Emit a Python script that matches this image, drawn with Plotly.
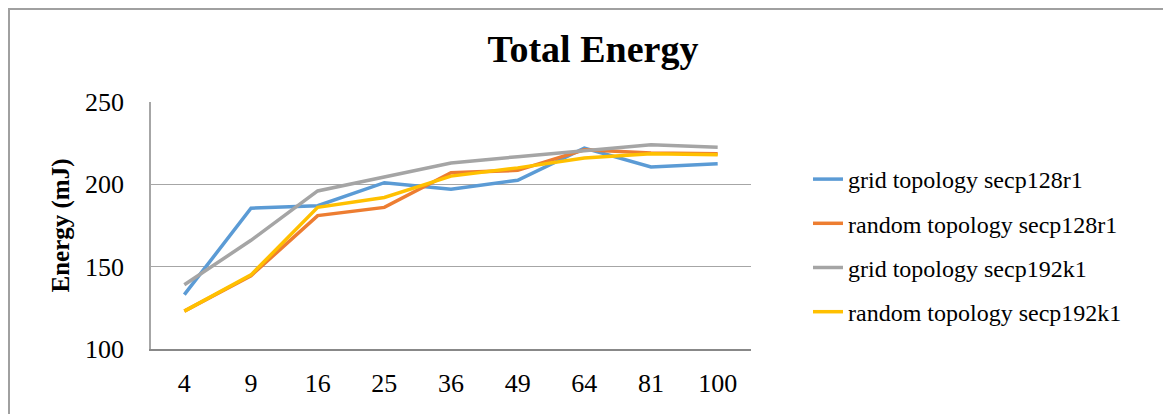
import plotly.graph_objects as go

categories = ["4", "9", "16", "25", "36", "49", "64", "81", "100"]
grid_128 = [133, 185.5, 187, 201, 197, 202.5, 222, 210.5, 212.5]
random_128 = [123, 144.5, 181, 186, 207, 208.5, 221, 219, 218.5]
grid_192 = [139, 166, 196, 204.5, 213, 216.8, 220.5, 224, 222.5]
random_192 = [123, 145, 186, 192, 205, 210, 216, 218.5, 218]

series_names = ["grid topology secp128r1", "random topology secp128r1",
                "grid topology secp192k1", "random topology secp192k1"]
series_values = [grid_128, random_128, grid_192, random_192]
colors = ["#5B9BD5", "#ED7D31", "#A5A5A5", "#FFC000"]

OFF = 8  # page body margin
W, H = 1171 - OFF, 414 - OFF
L, R, T, B = 151 - OFF, 751 - OFF, 102 - OFF, 349 - OFF

fig = go.Figure()
for name, vals, c in zip(series_names, series_values, colors):
    fig.add_trace(go.Scatter(x=categories, y=vals, name=name, mode="lines",
                             line=dict(color=c, width=3.5), legendgroup=name))

def px2x(px):
    return (px - OFF - L) / (R - L)

def px2y(py):
    return (B - (py - OFF)) / (B - T)

fig.update_layout(
    width=W, height=H,
    margin=dict(l=L, r=W - R, t=T, b=H - B),
    paper_bgcolor="white", plot_bgcolor="white",
    font=dict(family="Liberation Serif", color="black"),
    title=dict(text="<b>Total Energy</b>", x=(593 - OFF) / W, xref="container",
               xanchor="center", y=1 - (49 - OFF) / H, yref="container", yanchor="middle",
               font=dict(size=38, family="Liberation Serif", color="black")),
    showlegend=True,
    legend=dict(x=px2x(808), y=px2y(157), xanchor="left", yanchor="top",
                font=dict(size=24, family="Liberation Serif", color="black"),
                tracegroupgap=10, bgcolor="rgba(0,0,0,0)"),
    xaxis=dict(type="category", showgrid=False, showline=True, linecolor="#888888",
               linewidth=1.5, ticks="", tickfont=dict(size=26),
               ticklabelstandoff=10, range=[-0.5, 8.5], fixedrange=True),
    yaxis=dict(range=[100, 250], dtick=50, showgrid=True, gridcolor="#A6A6A6",
               gridwidth=1, showline=True, linecolor="#A6A6A6", linewidth=1.5,
               ticks="", tickfont=dict(size=26), ticklabelstandoff=20,
               zeroline=False,
               title=dict(text="<b>Energy (mJ)</b>", font=dict(size=25), standoff=8)),
    shapes=[dict(type="rect", xref="paper", yref="paper",
                 x0=px2x(OFF + 1), x1=px2x(1190), y0=px2y(430), y1=px2y(OFF + 1),
                 line=dict(color="#A0A0A0", width=2), layer="below")],
)

fig.write_html("out.html")
